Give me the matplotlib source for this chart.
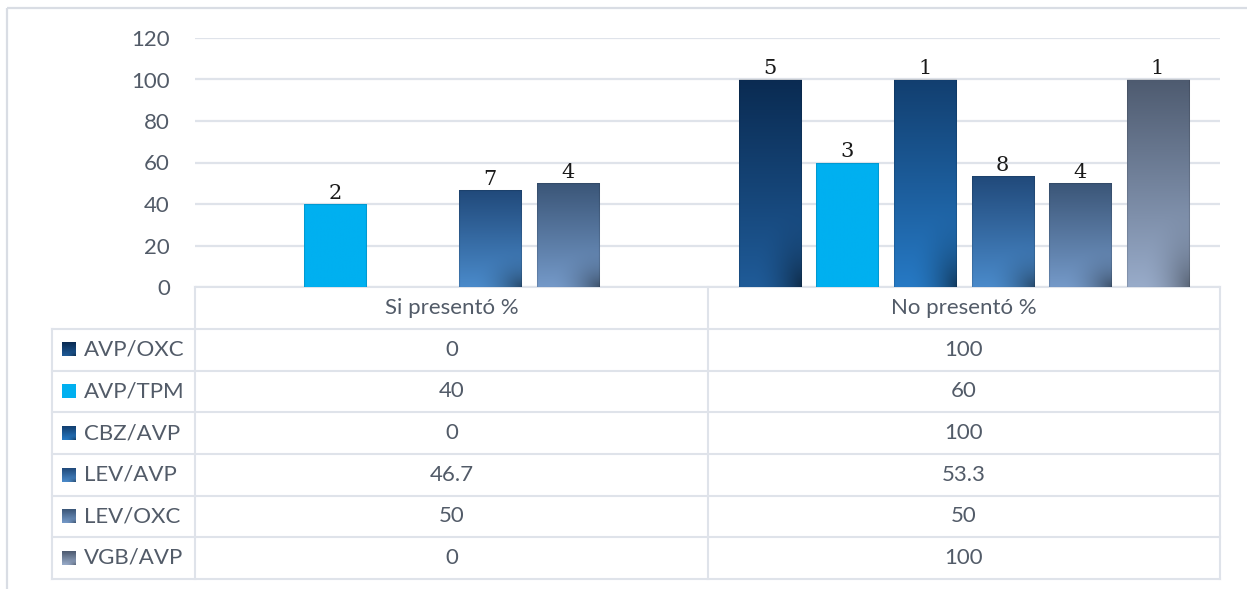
import numpy as np
import matplotlib
matplotlib.use("Agg")
import matplotlib.pyplot as plt
from matplotlib.colors import to_rgb

# ---- data -------------------------------------------------------------
groups = ["Si presentó %", "No presentó %"]
series = ["AVP/OXC", "AVP/TPM", "CBZ/AVP", "LEV/AVP", "LEV/OXC", "VGB/AVP"]
si_pct = [0, 40, 0, 46.7, 50, 0]
no_pct = [100, 60, 100, 53.3, 50, 100]
si_counts = [None, 2, None, 7, 4, None]
no_counts = [5, 3, 1, 8, 4, 1]
yticks = [0, 20, 40, 60, 80, 100, 120]

# ---- styling ----------------------------------------------------------
top_colors = ["#0a2b52", "#00b0f0", "#123f70", "#214a7b", "#3b5678", "#4e5b70"]
bottom_colors = ["#1f5b98", "#00b0f0", "#2679c4", "#4a8aca", "#7499c8", "#98abc9"]
corner_shade = [0.5, 0.0, 0.5, 0.45, 0.45, 0.4]
text_color = "#525b68"
line_color = "#dfe3ea"

W, H = 1247, 589
fig = plt.figure(figsize=(W / 100, H / 100), dpi=100)
fig.patch.set_facecolor("white")


def gradient(top, bottom, shade, n=80):
    t = np.linspace(0, 1, n)[:, None]
    u = np.linspace(0, 1, n)[None, :]
    top = np.array(to_rgb(top))
    bottom = np.array(to_rgb(bottom))
    rgb = top[None, None, :] * (1 - t[..., None]) + bottom[None, None, :] * t[..., None]
    rgb = np.broadcast_to(rgb, (n, n, 3)).copy()
    # soft darkening toward the lower-right corner
    d = np.sqrt(((1 - u) / 0.8) ** 2 + ((1 - t) / 0.4) ** 2)
    dark = np.clip(1 - d, 0, 1) ** 2 * shade
    rgb *= (1 - dark)[..., None]
    return np.clip(rgb, 0, 1)


# ---- background overlay: frame and data table --------------------------
ov = fig.add_axes([0, 0, 1, 1], zorder=0)
ov.set_xlim(0, W)
ov.set_ylim(H, 0)
ov.axis("off")

# outer frame (top and left edges)
ov.plot([7, W], [8, 8], color="#d9dde4", lw=1.6, solid_capstyle="butt")
ov.plot([7, 7], [8, H], color="#d9dde4", lw=1.6, solid_capstyle="butt")

x_lab, x_c0, x_c1, x_c2 = 52, 195, 708, 1220
row_edges = [287, 328.5, 370.5, 412, 454, 495.5, 537, 578.5]
lw_t = 1.5
# horizontal table lines
ov.plot([x_c0, x_c2], [row_edges[0]] * 2, color=line_color, lw=lw_t)
for y in row_edges[1:]:
    ov.plot([x_lab, x_c2], [y, y], color=line_color, lw=lw_t)
# vertical table lines
ov.plot([x_lab, x_lab], [row_edges[1], row_edges[-1]], color=line_color, lw=lw_t)
for x in (x_c0, x_c1, x_c2):
    ov.plot([x, x], [row_edges[0], row_edges[-1]], color=line_color, lw=lw_t)

font = dict(family="Lato", size=16, color=text_color)
col_centers = [(x_c0 + x_c1) / 2, (x_c1 + x_c2) / 2]
hdr_y = (row_edges[0] + row_edges[1]) / 2
for cx, g in zip(col_centers, groups):
    ov.text(cx, hdr_y, g, ha="center", va="center", **font)

for i, name in enumerate(series):
    yc = (row_edges[i + 1] + row_edges[i + 2]) / 2
    # legend swatch
    ov.imshow(gradient(top_colors[i], bottom_colors[i], corner_shade[i], 20),
              extent=(62, 76, yc + 7, yc - 7), origin="upper", aspect="auto",
              interpolation="bilinear", zorder=2)
    ov.text(84, yc, name, ha="left", va="center", **font)
    ov.text(col_centers[0], yc, f"{si_pct[i]:g}", ha="center", va="center", **font)
    ov.text(col_centers[1], yc, f"{no_pct[i]:g}", ha="center", va="center", **font)
ov.set_xlim(0, W)
ov.set_ylim(H, 0)

# ---- bar chart --------------------------------------------------------
ax = fig.add_axes([x_c0 / W, 1 - 287 / H, (x_c2 - x_c0) / W, (287 - 38) / H], zorder=1)
ax.patch.set_alpha(0)
ax.set_xlim(-0.5, 1.5)
ax.set_ylim(0, 120)

pitch = 0.1513
width = 0.121
values = [si_pct, no_pct]
counts = [si_counts, no_counts]
for gi in range(len(groups)):
    for si in range(len(series)):
        h = values[gi][si]
        if h <= 0:
            continue
        xc = gi + (si - 2.5) * pitch
        rect = ax.bar(xc, h, width, facecolor="none",
                      edgecolor=(0, 0, 0, 0.12), lw=0.8, zorder=3)[0]
        im = ax.imshow(gradient(top_colors[si], bottom_colors[si], corner_shade[si]),
                       extent=(xc - width / 2, xc + width / 2, 0, h), origin="upper",
                       aspect="auto", interpolation="bilinear", zorder=2)
        im.set_clip_path(rect)
        c = counts[gi][si]
        if c is not None:
            ax.annotate(str(c), (xc, h), xytext=(0, 1), textcoords="offset points",
                        ha="center", va="bottom", family="DejaVu Serif",
                        fontsize=15, color="#1a1a1a", zorder=4)

ax.set_xlim(-0.5, 1.5)
ax.set_ylim(0, 120)
ax.set_yticks(yticks)
ax.set_xticks([])
ax.tick_params(axis="y", length=0, pad=18, labelsize=16, labelcolor=text_color)
for lab in ax.get_yticklabels():
    lab.set_family("Lato")
ax.grid(axis="y", color=line_color, lw=1.6)
ax.set_axisbelow(True)
for sp in ax.spines.values():
    sp.set_visible(False)

fig.savefig("out.png", dpi=100)
